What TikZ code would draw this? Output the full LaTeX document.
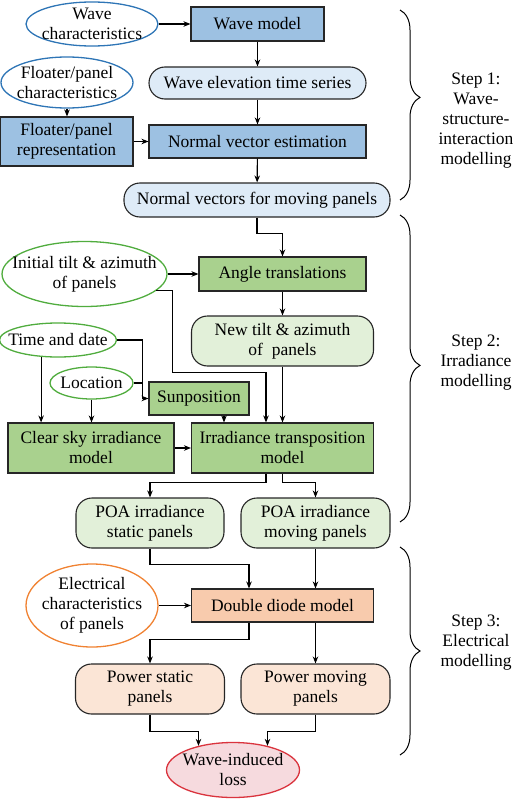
\documentclass[tikz,border=0pt]{standalone}
\usepackage{fontspec}
\setmainfont{Liberation Serif}
\usetikzlibrary{shapes.geometric,arrows.meta,decorations.pathreplacing}
\definecolor{blueline}{RGB}{46,117,182}
\definecolor{bluebox}{RGB}{157,193,226}
\definecolor{bluepill}{RGB}{222,235,247}
\definecolor{greenline}{RGB}{80,172,62}
\definecolor{greenbox}{RGB}{169,209,142}
\definecolor{greenpill}{RGB}{226,240,217}
\definecolor{orangeline}{RGB}{240,130,50}
\definecolor{orangebox}{RGB}{248,203,173}
\definecolor{orangepill}{RGB}{251,229,214}
\definecolor{redline}{RGB}{218,52,62}
\definecolor{redfill}{RGB}{246,218,222}
\begin{document}
\begin{tikzpicture}[x=1pt, y=-1pt, line width=1.1pt, >={Stealth[length=7pt,width=5.5pt]},
	every node/.style={font=\fontsize{17.5}{20}\selectfont, align=center, inner sep=0pt},
	sz/.style 2 args={minimum width=#1pt, minimum height=#2pt},
	box/.style={draw=black!85, rectangle},
	pill/.style={draw=black!85, rectangle, rounded corners=16pt},
	oval/.style={draw, ellipse, line width=1.3pt, inner sep=-30pt}]
		\useasboundingbox (0,0) rectangle (515,800);
		
		% step 1
		\node[oval, draw=blueline, sz={132}{44}] (wavechar) at (92,24) {Wave\\characteristics};
		\node[box, fill=bluebox, sz={133}{34}] (wavemodel) at (257.5,24) {Wave model};
		\node[pill, fill=bluepill, sz={217}{32}] (elev) at (257.5,83) {Wave elevation time series};
		\node[oval, draw=blueline, sz={132}{51}] (floatchar) at (67,82.5) {Floater/panel\\characteristics};
		\node[box, fill=bluebox, sz={133}{49}] (floatrep) at (66.5,141.5) {Floater/panel\\representation};
		\node[box, fill=bluebox, sz={217}{33}] (normest) at (257.5,141.5) {Normal vector estimation};
		\node[pill, fill=bluepill, sz={266}{34}] (normvec) at (257,200) {Normal vectors for moving panels};
		
		% step 2
		\node[box, fill=greenbox, sz={167}{34}] (angle) at (282.5,274) {Angle translations};
		\node[oval, draw=greenline, sz={165}{65}] (init) at (84.5,274) {Initial tilt \& azimuth\\of panels};
		\node[pill, fill=greenpill, sz={182}{50}] (newtilt) at (282.5,341) {New tilt \& azimuth\\of\ \ panels};
		\node[oval, draw=greenline, sz={117}{34}] (timedate) at (58,340) {Time and date};
		\node[oval, draw=greenline, sz={83}{32}] (location) at (91.5,383) {Location};
		\node[box, fill=greenbox, sz={100}{33}] (sunpos) at (199,398.5) {Sunposition};
		\node[box, fill=greenbox, sz={166}{50}] (clearsky) at (91,448) {Clear sky irradiance\\model};
		\node[box, fill=greenbox, sz={182}{50}] (transp) at (282.5,448) {Irradiance transposition\\model};
		\node[pill, fill=greenpill, sz={148}{50}] (poastatic) at (150,523) {POA irradiance\\static panels};
		\node[pill, fill=greenpill, sz={149}{50}] (poamoving) at (315.5,523) {POA irradiance\\moving panels};
		
		% step 3
		\node[box, fill=orangebox, sz={182}{33}] (diode) at (282.5,605.5) {Double diode model};
		\node[oval, draw=orangeline, sz={132}{83}] (elec) at (92,605.5) {Electrical\\characteristics\\of panels};
		\node[pill, fill=orangepill, sz={149}{50}] (powstatic) at (150,689) {Power static\\panels};
		\node[pill, fill=orangepill, sz={149}{50}] (powmoving) at (315.5,689) {Power moving\\panels};
		\node[oval, draw=redline, fill=redfill, sz={133}{55}] (loss) at (233,770) {Wave-induced\\loss};
		
		\draw[->] (wavechar.east) -- (wavemodel.west);
		\draw[->] (wavemodel) -- (elev);
		\draw[->] (elev) -- (normest);
		\draw[->] (floatchar.south) -- (floatchar.south |- floatrep.north);
		\draw[->] (floatrep) -- (normest);
		\draw[->] (normest) -- (normvec);
		\draw[->] (normvec.south) -- ++(0,16) -| (angle.north);
		
		\draw[->] (init.east) -- (angle.west);
		\draw[->] (init.-13) -| ++(16,82) -| ([xshift=-16.5pt]transp.north);
		\draw[->] (angle) -- (newtilt);
		\draw[->] (newtilt) -- (transp);
		\draw[->] (timedate.east) -- ++(25,0) |- (sunpos.west);
		\draw (location.east) -- ++(9,0);
		\draw[->] (timedate.-135) -- (timedate.-135 |- clearsky.north);
		\draw[->] (location.south) -- (location.south |- clearsky.north);
		\draw[->] ([xshift=25pt]sunpos.south) -- ([xshift=25pt]sunpos.south |- transp.north);
		\draw[->] (clearsky) -- (transp);
		\draw[->] ([xshift=-16.5pt]transp.south) -- ++(0,9) -| (poastatic.north);
		\draw[->] (transp.south) -- ++(0,9) -| (poamoving.north);
		
		\draw[->] (poastatic.south) -- ++(0,16) -| ([xshift=-33.5pt]diode.north);
		\draw[->] (poamoving.south) -- (poamoving.south |- diode.north);
		\draw[->] (elec) -- (diode);
		\draw[->] ([xshift=-33.5pt]diode.south) -- ++(0,17) -| (powstatic.north);
		\draw[->] (powmoving.north |- diode.south) -- (powmoving.north);
		\draw[->] (powstatic.south) -- ++(0,17) -| (loss.145);
		\draw[->] (powmoving.south) -- ++(0,17) -| (loss.35);
		
		% braces
		\draw[line width=1pt, decorate, decoration={brace, amplitude=20pt, aspect=0.46}] (400,10) -- (400,200);
		\draw[line width=1pt, decorate, decoration={brace, amplitude=20pt, aspect=0.49}] (400,215) -- (400,522);
		\draw[line width=1pt, decorate, decoration={brace, amplitude=20pt, aspect=0.5}] (400,547) -- (400,755);
		\node (step1) at (476,121) {Step 1:\\Wave-\\structure-\\interaction\\modelling};
		\node (step2) at (476,363) {Step 2:\\Irradiance\\modelling};
		\node (step3) at (476,643) {Step 3:\\Electrical\\modelling};
		
	\end{tikzpicture}
\end{document}
